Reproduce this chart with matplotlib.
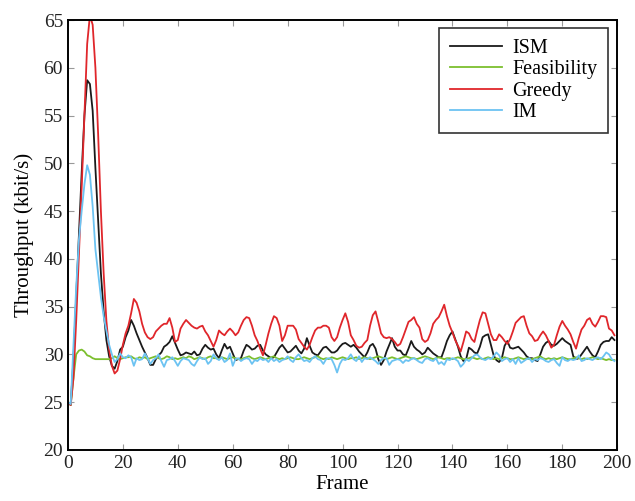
import numpy as np
import matplotlib
matplotlib.use("Agg")
import matplotlib.pyplot as plt

frames = list(range(200))

ism = [25.0, 24.7, 29.5, 36.0, 42.5, 49.0, 55.0, 58.7, 58.3, 55.5,
       49.5, 44.0, 38.5, 34.5, 31.5, 29.8, 28.8, 28.5, 29.3, 30.5,
       30.8, 31.8, 32.5, 33.6, 33.0, 32.2, 31.5, 30.8, 30.2, 29.6,
       28.9, 28.9, 29.5, 29.9, 30.2, 30.8, 31.0, 31.3, 31.9, 31.2,
       30.5, 29.9, 30.0, 30.2, 30.1, 30.0, 30.3, 29.9, 30.0, 30.6,
       31.0, 30.7, 30.5, 30.6, 30.0, 29.6, 30.4, 31.1, 30.6, 30.8,
       30.1, 29.4, 29.5, 29.6, 30.4, 31.0, 30.8, 30.5, 30.6, 30.9,
       31.0, 30.4, 30.0, 29.8, 29.6, 29.7, 30.2, 30.7, 31.0, 30.6,
       30.2, 30.3, 30.6, 30.9, 30.4, 30.1, 30.6, 31.7, 30.9, 30.2,
       30.0, 29.9, 30.3, 30.7, 30.8, 30.5, 30.2, 30.2, 30.4, 30.8,
       31.1, 31.2, 31.0, 30.8, 31.0, 30.7, 30.3, 30.0, 29.7, 30.2,
       30.9, 31.1, 30.6, 29.5, 28.9, 29.4, 30.3, 31.0, 31.7, 30.8,
       30.4, 30.4, 30.0, 29.9, 30.6, 31.4, 30.8, 30.5, 30.3, 30.0,
       30.2, 30.7, 30.4, 30.1, 29.9, 29.7, 29.7, 30.5, 31.4, 32.0,
       32.4, 31.6, 30.8, 29.8, 29.3, 29.5, 30.7, 30.5, 30.2, 30.1,
       30.8, 31.8, 32.0, 32.1, 31.0, 29.9, 29.4, 29.2, 29.6, 30.9,
       31.4, 30.7, 30.6, 30.7, 30.8, 30.5, 30.2, 29.8, 29.6, 29.6,
       29.4, 29.3, 30.0, 30.8, 31.2, 31.4, 31.0, 30.9, 31.1, 31.4,
       31.7, 31.4, 31.2, 31.0, 29.8, 29.5, 29.6, 30.0, 30.4, 30.8,
       30.3, 29.9, 29.7, 30.3, 31.0, 31.3, 31.4, 31.4, 31.8, 31.5]

feasibility = [25.0, 24.7, 27.5, 30.0, 30.4, 30.5, 30.3, 29.9, 29.8, 29.6,
               29.5, 29.5, 29.5, 29.5, 29.5, 29.5, 29.6, 29.8, 29.6, 29.5,
               29.6, 29.7, 29.7, 29.8, 29.6, 29.5, 29.7, 29.6, 29.7, 29.5,
               29.6, 29.7, 29.8, 29.6, 29.5, 29.6, 29.8, 29.7, 29.5, 29.6,
               29.5, 29.6, 29.7, 29.6, 29.8, 29.7, 29.5, 29.6, 29.7, 29.6,
               29.5, 29.7, 29.8, 29.6, 29.6, 29.5, 29.7, 29.6, 29.5, 29.6,
               29.7, 29.6, 29.5, 29.5, 29.6, 29.7, 29.8, 29.6, 29.5, 29.6,
               29.7, 29.6, 29.5, 29.6, 29.7, 29.8, 29.6, 29.5, 29.6, 29.5,
               29.6, 29.7, 29.6, 29.5, 29.5, 29.6, 29.7, 29.6, 29.5, 29.6,
               29.7, 29.8, 29.6, 29.5, 29.6, 29.5, 29.7, 29.6, 29.5, 29.6,
               29.7, 29.6, 29.5, 29.6, 29.6, 29.7, 29.5, 29.6, 29.7, 29.6,
               29.5, 29.6, 29.7, 29.8, 29.7, 29.6, 29.5, 29.6, 29.7, 29.6,
               29.5, 29.6, 29.7, 29.8, 29.7, 29.6, 29.6, 29.5, 29.6, 29.7,
               29.8, 29.7, 29.6, 29.5, 29.6, 29.7, 29.6, 29.5, 29.6, 29.6,
               29.5, 29.6, 29.7, 29.6, 29.5, 29.5, 29.6, 29.7, 29.6, 29.5,
               29.6, 29.5, 29.6, 29.7, 29.6, 29.5, 29.6, 29.5, 29.6, 29.7,
               29.6, 29.5, 29.5, 29.6, 29.7, 29.6, 29.5, 29.6, 29.5, 29.5,
               29.6, 29.7, 29.8, 29.6, 29.5, 29.6, 29.5, 29.6, 29.5, 29.6,
               29.7, 29.6, 29.5, 29.5, 29.6, 29.7, 29.6, 29.5, 29.6, 29.5,
               29.6, 29.7, 29.6, 29.5, 29.6, 29.5, 29.4, 29.5, 29.4, 29.4]

greedy = [25.0, 24.7, 27.5, 33.5, 40.5, 47.5, 55.0, 62.5, 65.5, 64.5,
          60.0, 53.0, 45.0, 38.5, 33.5, 30.5, 28.8, 28.0, 28.3, 29.5,
          31.0, 32.2, 33.0, 34.3, 35.8, 35.4, 34.5, 33.2, 32.3, 31.8,
          31.6, 31.8, 32.4, 32.7, 33.0, 33.2, 33.2, 33.8, 32.8, 31.3,
          31.5, 32.7, 33.2, 33.6, 33.3, 33.0, 32.8, 32.7, 32.9, 33.0,
          32.4, 32.0, 31.4, 30.8, 31.5, 32.5, 32.2, 32.0, 32.4, 32.7,
          32.4, 32.0, 32.3, 33.0, 33.6, 33.9, 33.8, 33.0, 32.0, 31.4,
          30.6, 29.9, 31.0, 32.2, 33.2, 34.0, 33.8, 33.0, 31.4, 32.0,
          33.0, 33.0, 33.0, 32.6, 31.6, 31.2, 30.8, 30.5, 31.0, 31.8,
          32.5, 32.8, 32.8, 33.0, 33.0, 32.8, 31.8, 31.4, 31.8, 32.8,
          33.6, 34.3, 33.4, 32.0, 31.5, 30.9, 30.7, 30.8, 31.2, 31.5,
          33.0, 34.1, 34.5, 33.4, 32.2, 31.8, 31.7, 31.8, 31.6, 31.3,
          30.9, 31.1, 31.8, 32.6, 33.4, 33.6, 33.9, 33.2, 32.8, 31.6,
          31.3, 31.5, 32.2, 33.2, 33.6, 33.9, 34.5, 35.2, 34.0, 33.0,
          32.3, 31.5, 30.9, 30.3, 31.3, 32.4, 32.2, 31.6, 31.3, 32.5,
          33.6, 34.4, 34.3, 33.2, 32.1, 31.5, 31.5, 32.1, 31.8, 31.4,
          31.1, 31.6, 32.4, 33.3, 33.6, 33.9, 34.0, 33.0, 32.2, 31.9,
          31.4, 31.5, 32.0, 32.4, 32.0, 31.4, 30.7, 31.0, 32.0, 32.9,
          33.5, 33.0, 32.6, 32.1, 31.3, 30.6, 31.7, 32.6, 33.0, 33.6,
          33.8, 33.2, 32.9, 33.4, 34.0, 34.0, 33.9, 32.7, 32.5, 32.0]

im = [25.0, 24.8, 31.0, 37.0, 42.0, 45.0, 47.8, 49.8, 48.8, 45.5,
      41.0, 38.5, 36.0, 34.0, 32.5, 31.0, 30.0, 29.2, 29.5, 30.1,
      29.7, 29.6, 29.9, 29.7, 28.8, 29.6, 29.4, 29.5, 30.1, 29.6,
      29.0, 29.4, 29.6, 30.0, 29.3, 28.7, 29.4, 29.5, 29.7, 29.3,
      28.8, 29.3, 29.6, 29.5, 29.4, 29.0, 28.8, 29.3, 29.7, 29.5,
      29.6, 29.0, 29.3, 30.0, 29.6, 29.4, 29.7, 29.2, 29.4, 30.1,
      28.8, 29.5, 29.6, 29.3, 29.5, 29.6, 29.5, 29.0, 29.4, 29.3,
      29.6, 29.4, 29.5, 29.2, 29.6, 29.3, 29.5, 29.2, 29.4, 29.5,
      29.8, 29.4, 29.2, 29.7, 30.0, 29.6, 29.3, 29.4, 29.2, 29.6,
      29.8, 29.5, 29.4, 29.0, 29.5, 29.6, 29.5, 28.9, 28.1, 29.0,
      29.5, 29.4, 29.6, 30.0, 29.5, 29.3, 29.8, 29.2, 29.6, 29.5,
      29.7, 29.5, 29.3, 29.0, 29.4, 29.6, 29.6, 28.9, 29.3, 29.4,
      29.5, 29.4, 29.1, 29.4, 29.3, 29.5, 29.6, 29.4, 29.2, 29.1,
      29.5, 29.6, 29.4, 29.3, 29.6, 29.0, 29.2, 28.9, 29.5, 29.4,
      29.6, 29.5, 29.3, 28.7, 29.0, 29.5, 29.3, 29.6, 29.9, 30.0,
      29.7, 29.5, 29.4, 29.6, 29.5, 29.8, 30.2, 29.9, 29.3, 29.5,
      29.6, 29.2, 29.5, 29.0, 29.6, 29.1, 29.3, 29.5, 29.6, 29.2,
      29.5, 29.4, 29.6, 29.5, 29.3, 29.2, 29.4, 29.5, 29.1, 28.8,
      29.7, 29.4, 29.3, 29.5, 29.4, 29.5, 29.9, 29.3, 29.4, 29.6,
      29.5, 29.4, 29.6, 29.7, 29.5, 29.8, 30.2, 30.0, 29.5, 29.3]

plt.rcParams['font.family'] = ['Liberation Serif', 'DejaVu Serif']

fig = plt.figure(figsize=(6.35, 5.01), dpi=100)
ax = fig.add_axes([0.107, 0.102, 0.865, 0.858])

ax.plot(frames, ism, color='#1a1a1a', lw=1.3, label='ISM')
ax.plot(frames, feasibility, color='#7cbf2e', lw=1.3, label='Feasibility')
ax.plot(frames, greedy, color='#e0262b', lw=1.3, label='Greedy')
ax.plot(frames, im, color='#6cc3f2', lw=1.3, label='IM')

ax.set_xlim(0, 200)
ax.set_ylim(20, 65)
ax.set_xticks(range(0, 201, 20))
ax.set_yticks(range(20, 66, 5))
ax.tick_params(direction='in', top=True, right=True, labelsize=14,
               length=4, color='#999999', labelcolor='#222222')
for s in ax.spines.values():
    s.set_linewidth(1.4)
ax.set_xlabel('Frame', fontsize=15, labelpad=2)
ax.set_ylabel('Throughput (kbit/s)', fontsize=15, labelpad=7)

leg = ax.legend(loc='upper right', fontsize=14.5, handlelength=2.6,
                handletextpad=0.5, fancybox=False, edgecolor='#333333',
                framealpha=1, borderpad=0.55, labelspacing=0.1,
                borderaxespad=0, bbox_to_anchor=(0.984, 0.981))
leg.get_frame().set_linewidth(1.2)

fig.savefig('out.png', dpi=100)
